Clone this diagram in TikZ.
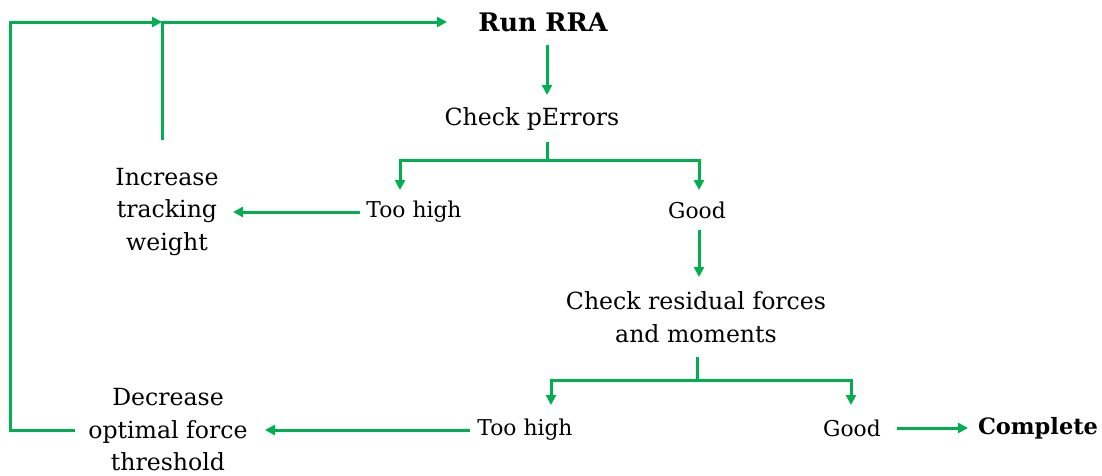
\documentclass[tikz,border=0pt]{standalone}
\usepackage{fontspec}
\setmainfont{DejaVu Serif}
\usetikzlibrary{arrows.meta}
\definecolor{grn}{HTML}{00B050}
\begin{document}
\begin{tikzpicture}[x=1pt,y=-1pt]
\tikzset{
 ln/.style={draw=grn, line width=3pt},
 arr/.style={ln, -{Triangle[length=10pt,width=10pt]}},
 big/.style={font=\fontsize{23.6}{32.5}\selectfont, align=center, inner sep=0pt},
 small/.style={font=\fontsize{21.8}{24}\selectfont, inner sep=0pt},
}
\useasboundingbox (0,0) rectangle (1102,475);
% nodes
\node[big,font=\fontsize{25.5}{32}\selectfont\bfseries] (run) at (543,22) {Run RRA};
\node[big] (chk) at (532,119) {Check pErrors};
\node[small] (th1) at (414,212) {Too high};
\node[big] (inc) at (167,212) {Increase\\tracking\\weight};
\node[small] (g1) at (697,210) {Good};
\node[big] (res) at (696,317) {Check residual forces\\and moments};
\node[small] (th2) at (525,430) {Too high};
\node[big] (dec) at (168,430) {Decrease\\optimal force\\threshold};
\node[small] (g2) at (852,428) {Good};
\node[small,font=\fontsize{22.5}{24}\selectfont\bfseries] (comp) at (1038,428) {Complete};
% coordinates
\coordinate (L0) at (75,430);
\coordinate (L1) at (10,430);
\coordinate (J1) at (162,22);
\coordinate (I0) at (162,140);
\coordinate (R0) at (447,22);
\coordinate (R1) at (547,45);
\coordinate (R2) at (547,95);
\coordinate (C0) at (547,142);
\coordinate (C1) at (547,160);
\coordinate (T1) at (400,190);
\coordinate (G1) at (699,190);
\coordinate (T1a) at (360,212);
\coordinate (I1) at (233,212);
\coordinate (G1a) at (699,230);
\coordinate (G1b) at (699,277);
\coordinate (S0) at (697,357);
\coordinate (S1) at (697,380);
\coordinate (T2) at (551,405);
\coordinate (G2) at (851,405);
\coordinate (T2a) at (470,430);
\coordinate (D1) at (265,430);
\coordinate (G2a) at (897,428);
\coordinate (K1) at (968,428);
% connectors
\draw[arr] (L0) -- (L1) |- (J1);
\draw[arr] (I0) -- (J1) -- (R0);
\draw[arr] (R1) -- (R2);
\draw[ln] (C0) -- (C1);
\draw[arr] (C1) -| (T1);
\draw[arr] (C1) -| (G1);
\draw[arr] (T1a) -- (I1);
\draw[arr] (G1a) -- (G1b);
\draw[ln] (S0) -- (S1);
\draw[arr] (S1) -| (T2);
\draw[arr] (S1) -| (G2);
\draw[arr] (T2a) -- (D1);
\draw[arr] (G2a) -- (K1);
\end{tikzpicture}
\end{document}
